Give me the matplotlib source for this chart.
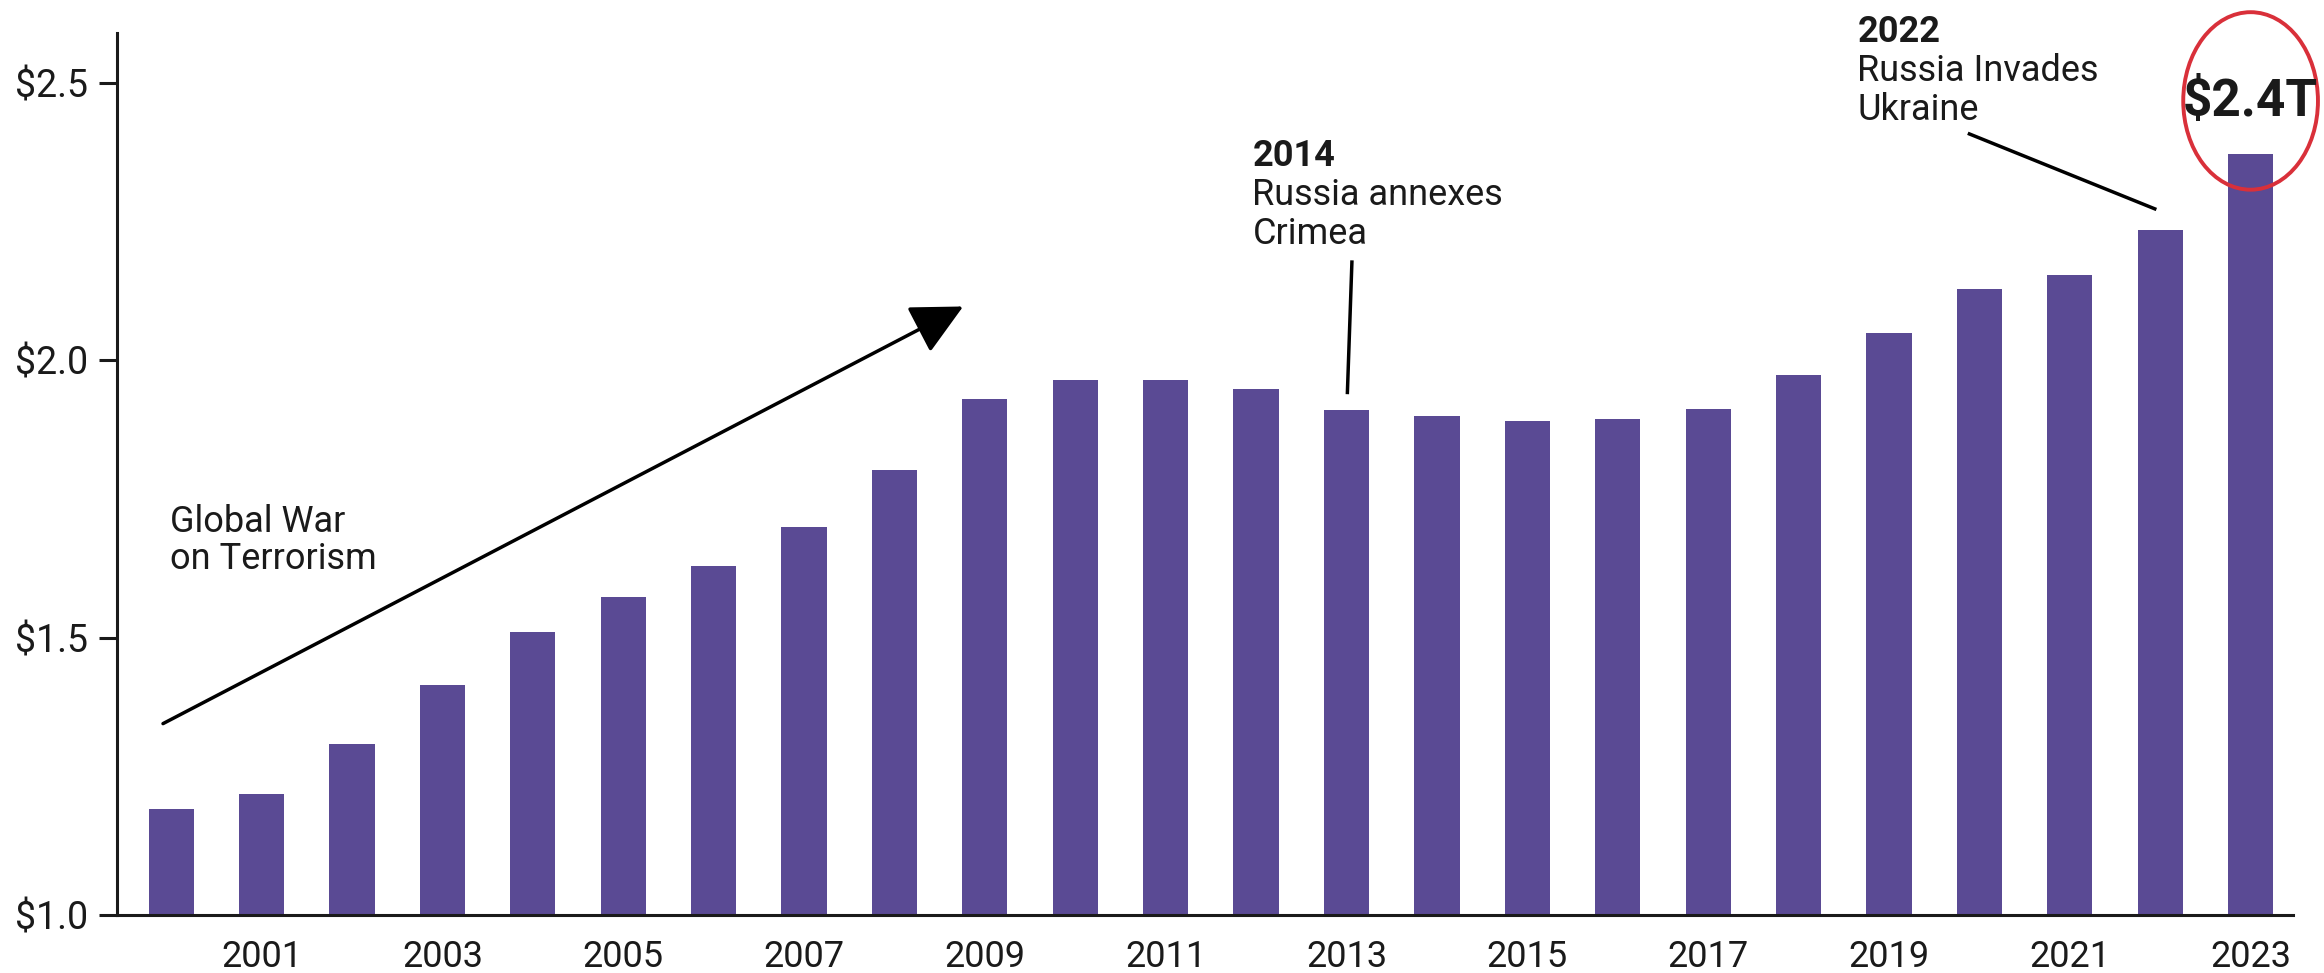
import matplotlib.pyplot as plt
from matplotlib.patches import Ellipse

plt.rcParams['font.family'] = ['Roboto', 'DejaVu Sans']

years = list(range(2000, 2024))
spending = [1.191, 1.218, 1.309, 1.415, 1.511, 1.574, 1.630, 1.699, 1.803, 1.931,
            1.964, 1.964, 1.949, 1.910, 1.899, 1.890, 1.894, 1.913, 1.973, 2.050,
            2.128, 2.153, 2.235, 2.372]
y_ticks = [1.0, 1.5, 2.0, 2.5]

BAR = '#5a4a94'
INK = '#1a1a1a'


def draw_note(ax, x, y, year, lines):
    # bold year on top, plain lines stacked below it
    ax.annotate(year, (x, y), fontsize=26, fontweight='bold', color=INK,
                ha='left', va='baseline')
    for k, line in enumerate(lines, start=1):
        ax.annotate(line, (x, y), xytext=(0, -28 * k), textcoords='offset points',
                    fontsize=26, color=INK, ha='left', va='baseline')


def main():
    fig = plt.figure(figsize=(23.24, 9.73), dpi=100)
    ax = fig.add_axes([0.0503, 0.0596, 0.9364, 0.9065])

    idx = list(range(len(years)))
    ax.bar(idx, spending, width=0.5, color=BAR, bottom=0)

    ax.set_ylim(1.0, 2.59)
    ax.set_xlim(-0.6, 23.47)
    ax.set_yticks(y_ticks)
    ax.set_yticklabels([f'${v:.1f}' for v in y_ticks])
    ax.set_xticks(idx[1::2])
    ax.set_xticklabels([str(y) for y in years[1::2]])

    for s in ('top', 'right'):
        ax.spines[s].set_visible(False)
    for s in ('left', 'bottom'):
        ax.spines[s].set_linewidth(2.2)
        ax.spines[s].set_color(INK)
    ax.tick_params(axis='y', length=13, width=2.2, pad=8, labelsize=27, colors=INK)
    ax.tick_params(axis='x', length=0, pad=17, labelsize=26, colors=INK)

    # growth arrow for the war on terror years
    ax.annotate('', xy=(8.76, 2.097), xytext=(-0.09, 1.345),
                arrowprops=dict(arrowstyle='-|>,head_length=1.0,head_width=0.5',
                                color='black', lw=2.5, mutation_scale=32,
                                shrinkA=0, shrinkB=0))
    ax.text(-0.01, 1.691, 'Global War', fontsize=26, color=INK, va='baseline')
    ax.text(-0.01, 1.623, 'on Terrorism', fontsize=26, color=INK, va='baseline')

    draw_note(ax, 11.96, 2.350, '2014', ['Russia annexes', 'Crimea'])
    ax.plot([13.06, 13.01], [2.177, 1.942], color='black', lw=2.5)

    draw_note(ax, 18.65, 2.574, '2022', ['Russia Invades', 'Ukraine'])
    ax.plot([19.89, 21.94], [2.408, 2.273], color='black', lw=2.5)

    last = len(spending) - 1
    ax.text(last, 2.44, f'${spending[last]:.1f}T', fontsize=37, fontweight='bold',
            color=INK, ha='center', va='baseline')
    ax.add_patch(Ellipse((last, 2.4675), 1.49, 0.32, fill=False,
                         edgecolor='#d9303a', lw=2.8, clip_on=False))

    fig.savefig('out.png', dpi=100)


if __name__ == "__main__":
    main()
